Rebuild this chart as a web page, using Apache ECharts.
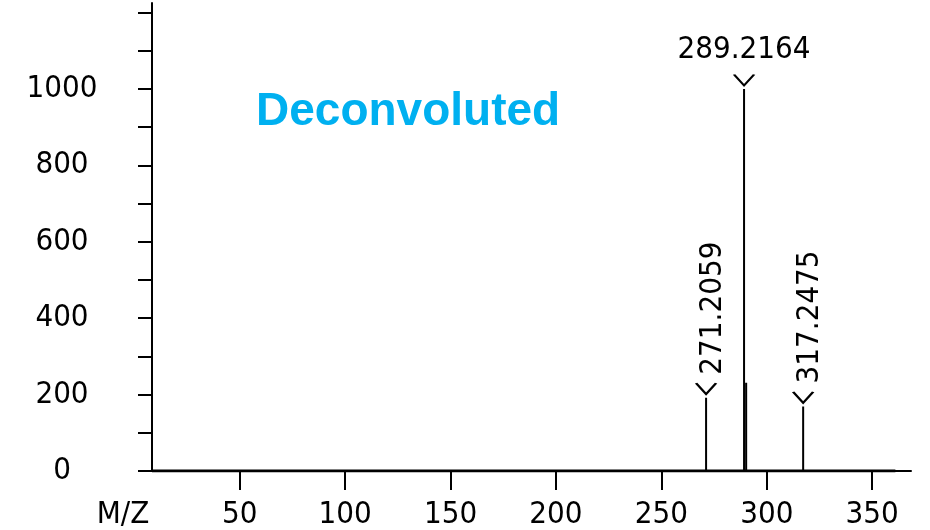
<!DOCTYPE html>
<html><head><meta charset="utf-8">
<script src="https://cdn.jsdelivr.net/npm/echarts@6/dist/echarts.min.js"></script>
<style>html,body{margin:0;padding:0;background:#fff}#c{width:930px;height:530px}</style>
</head><body><div id="c"></div>
<script>
// ---- data ----
const peakMz = [271.2059, 289.2164, 290.22, 317.2475];
const peakIntensity = [192, 1000, 231, 169];
const labeledMz = [271.2059, 289.2164, 317.2475];
const labeledIntensity = [192, 1000, 169];
const labelText = ['271.2059', '289.2164', '317.2475'];
const labelVertical = [true, false, true];
const baselineRange = [8.4, 361];
const xTickValues = [50, 100, 150, 200, 250, 300, 350];
const yLabelValues = [0, 200, 400, 600, 800, 1000];
const yTickValues = [0, 100, 200, 300, 400, 500, 600, 700, 800, 900, 1000, 1100, 1200];
const xAxisName = 'M/Z';
const panelTitle = 'Deconvoluted';

const FONT = '"DejaVu Sans Condensed", "DejaVu Sans", sans-serif';
const FS = 31;

// stick spectrum path built from the data
const stickData = [];
stickData.push([baselineRange[0], 0]);
peakMz.forEach((mz, i) => {
  stickData.push([mz, 0], [mz, peakIntensity[i]], [mz, 0]);
});
stickData.push([baselineRange[1], 0]);

const labelBase = { show: true, position: [0, 0], color: '#000', fontSize: FS, fontFamily: FONT,
  opacity: 1, textBorderWidth: 0, textBorderColor: 'transparent', textShadowBlur: 0 };
const labelData = labeledMz.map((mz, i) => ({
  value: [mz, labeledIntensity[i]],
  label: labelVertical[i]
    ? Object.assign({}, labelBase, { formatter: labelText[i], rotate: 90, align: 'left', verticalAlign: 'middle', offset: [23, 7] })
    : Object.assign({}, labelBase, { formatter: labelText[i], align: 'center', verticalAlign: 'bottom', offset: [0, -24] })
}));

const chart = echarts.init(document.getElementById('c'), null, { renderer: 'canvas' });
chart.setOption({
  backgroundColor: '#fff',
  animation: false,
  grid: { left: 152, right: 19, top: 3, bottom: 58.5 },
  xAxis: {
    type: 'value', min: 8.4, max: 368.4,
    axisLine: { show: true, onZero: false, lineStyle: { color: '#000', width: 2 } },
    axisTick: { show: true, customValues: xTickValues, length: 19, lineStyle: { color: '#000', width: 2 } },
    axisLabel: { customValues: xTickValues, margin: 28, fontSize: FS, color: '#000', fontFamily: FONT,
      formatter: v => String(v) },
    splitLine: { show: false }
  },
  yAxis: {
    type: 'value', min: 0, max: 1225,
    axisLine: { show: true, lineStyle: { color: '#000', width: 2 } },
    axisTick: { show: true, customValues: yTickValues, length: 14, lineStyle: { color: '#000', width: 2 } },
    axisLabel: { customValues: yLabelValues, margin: 90, align: 'center', fontSize: FS, color: '#000', fontFamily: FONT,
      formatter: v => String(v) },
    splitLine: { show: false }
  },
  graphic: [
    { type: 'text', x: 256, y: 112, silent: true,
      style: { text: panelTitle, fill: '#00B0F0', font: 'bold 46px "Liberation Sans", Arial, sans-serif', textAlign: 'left', textVerticalAlign: 'middle' } },
    { type: 'text', x: 123, y: 515, silent: true,
      style: { text: xAxisName, fill: '#000', font: FS + 'px ' + FONT, textAlign: 'center', textVerticalAlign: 'middle' } }
  ],
  series: [
    { type: 'line', data: stickData, symbol: 'none', silent: true,
      lineStyle: { color: '#000', width: 2, join: 'bevel' } },
    { type: 'line', data: [[baselineRange[0], 0], [baselineRange[1], 0]], symbol: 'none', silent: true,
      lineStyle: { color: '#000', width: 3 } },
    { type: 'scatter', data: labeledMz.map((mz, i) => [mz, labeledIntensity[i]]), silent: true, clip: false,
      symbol: 'path://M0,0L10,10L20,0', symbolSize: [20, 11], symbolOffset: [0, -9],
      itemStyle: { color: 'rgba(0,0,0,0)', borderColor: '#000', borderWidth: 2, opacity: 1 } },
    { type: 'scatter', data: labelData, symbolSize: 0, silent: true, clip: false,
      itemStyle: { color: '#000', opacity: 1 } }
  ]
});
</script></body></html>
